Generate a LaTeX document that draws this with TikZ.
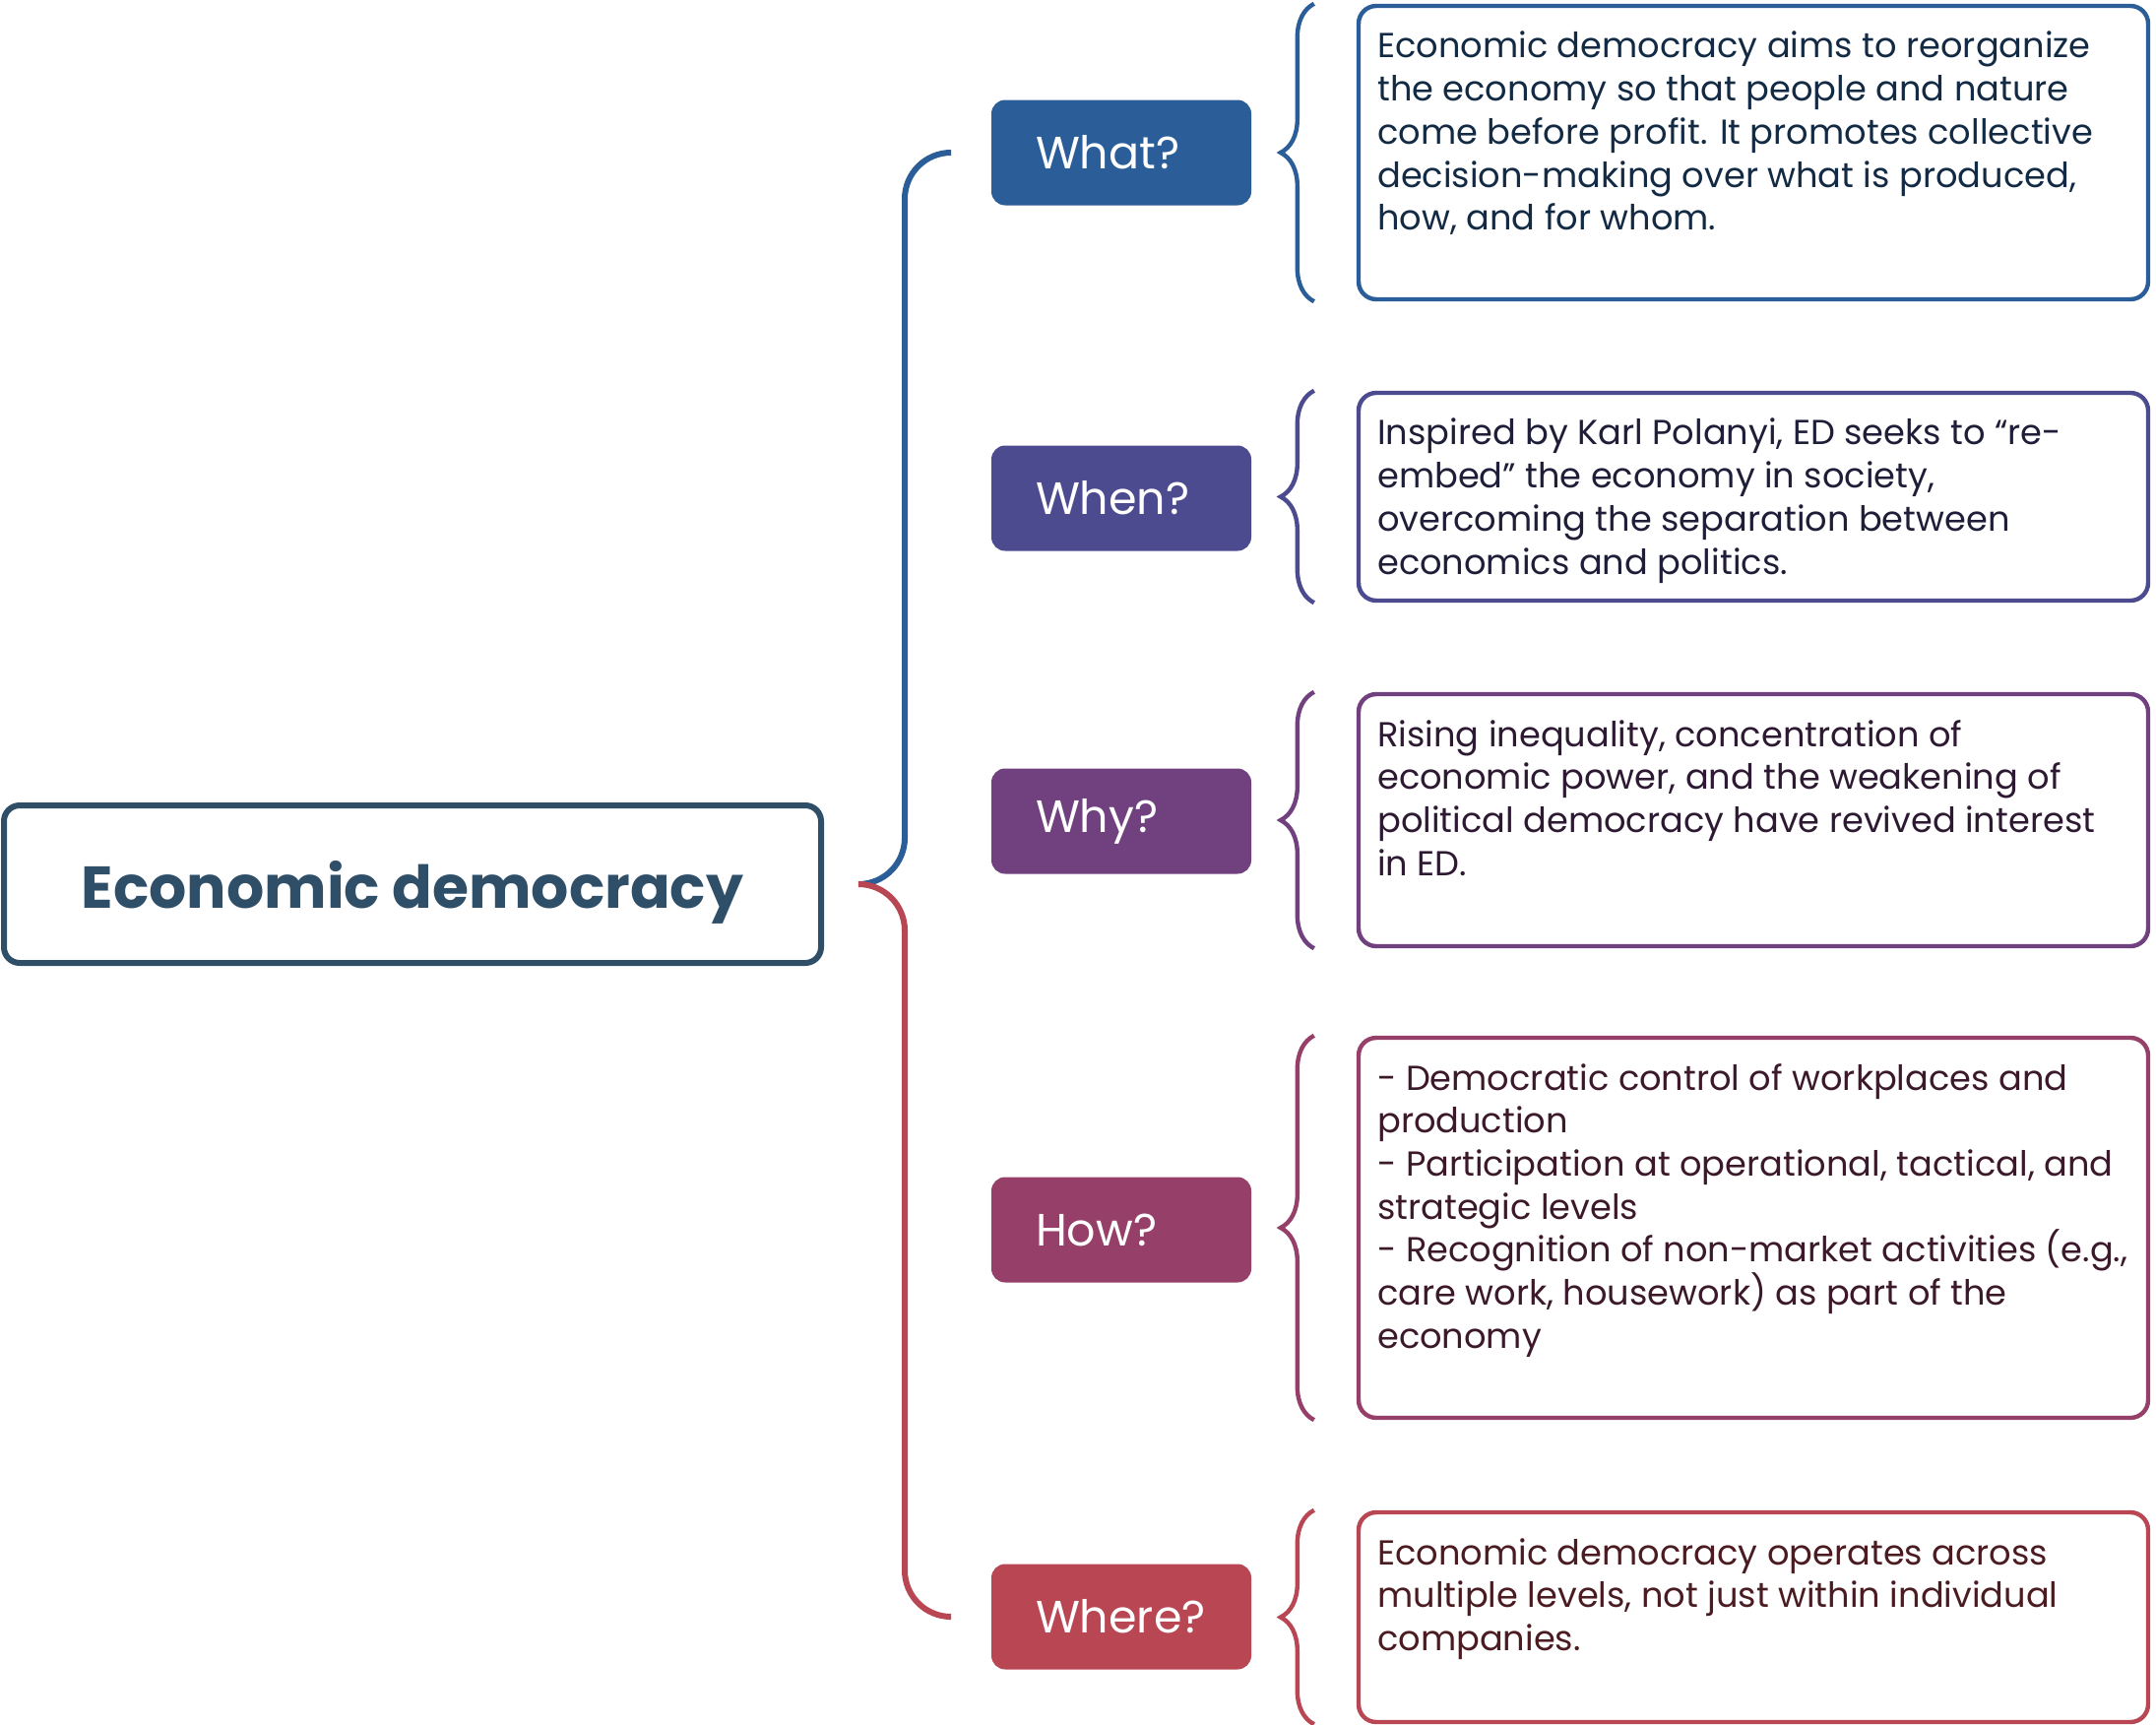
\documentclass[tikz,border=0pt]{standalone}
\usepackage{fontspec}
\setmainfont{Poppins}
\usetikzlibrary{positioning,calc,decorations.pathreplacing}

\definecolor{cwhat}{HTML}{2B5E98}
\definecolor{cwhen}{HTML}{4D4B8F}
\definecolor{cwhy}{HTML}{71407E}
\definecolor{chow}{HTML}{963F68}
\definecolor{cwhere}{HTML}{B84653}
\definecolor{croot}{HTML}{2F4E68}

\begin{document}
\begin{tikzpicture}[
    x=0.5pt, y=-0.5pt,
    rootbox/.style={rectangle, draw=croot, line width=3pt, rounded corners=8pt, minimum width=415pt, minimum height=80pt, text depth=0pt, text=croot, font=\fontsize{30}{35}\selectfont\bfseries},
    qbox/.style={rectangle, rounded corners=7pt, text=white, minimum height=53.5pt, text width=87pt, inner xsep=22.5pt, align=left, font=\fontsize{23}{28}\selectfont},
    infobox/.style={rectangle, line width=2.2pt, rounded corners=9pt, minimum width=401pt},
    infotext/.style={anchor=north west, inner sep=0pt, align=left, font=\fontsize{17.6}{21.85}\selectfont},
    brace/.style={decorate, decoration={brace, amplitude=17pt}, line width=2.2pt},
    branch/.style={line width=3pt, rounded corners=23.5pt}
]
\useasboundingbox (0,0) rectangle (2190,1751);

% Root
\node[rootbox] (root) at (419,898) {Economic democracy};

% Questions
\node[qbox, fill=cwhat] (what) at (1139,155) {What?};
\node[qbox, fill=cwhen] (when) at (1139,506) {When?};
\node[qbox, fill=cwhy] (why) at (1139,834) {Why?};
\node[qbox, fill=chow] (how) at (1139,1249) {How?};
\node[qbox, fill=cwhere] (where) at (1139,1642) {Where?};

% Answer boxes
\node[infobox, draw=cwhat, minimum height=149pt] (whatinfo) at (1781,155) {};
\node[infobox, draw=cwhen, minimum height=105.5pt] (wheninfo) at (1781,504.5) {};
\node[infobox, draw=cwhy, minimum height=128pt] (whyinfo) at (1781,833) {};
\node[infobox, draw=chow, minimum height=193pt] (howinfo) at (1781,1247) {};
\node[infobox, draw=cwhere, minimum height=106.5pt] (whereinfo) at (1781,1642.5) {};

% Answer texts
\node[infotext, text=cwhat!45!black] (whattext) at ([shift={(21,28)}]whatinfo.north west)
  {Economic democracy aims to reorganize\\the economy so that people and nature\\come before profit. It promotes collective\\decision-making over what is produced,\\how, and for whom.};
\node[infotext, text=cwhen!40!black] (whentext) at ([shift={(21,28)}]wheninfo.north west)
  {Inspired by Karl Polanyi, ED seeks to “re-\\embed” the economy in society,\\overcoming the separation between\\economics and politics.};
\node[infotext, text=cwhy!40!black] (whytext) at ([shift={(21,28)}]whyinfo.north west)
  {Rising inequality, concentration of\\economic power, and the weakening of\\political democracy have revived interest\\in ED.};
\node[infotext, text=chow!40!black] (howtext) at ([shift={(21,28)}]howinfo.north west)
  {- Democratic control of workplaces and\\production\\- Participation at operational, tactical, and\\strategic levels\\- Recognition of non-market activities (e.g.,\\care work, housework) as part of the\\economy};
\node[infotext, text=cwhere!40!black] (wheretext) at ([shift={(21,28)}]whereinfo.north west)
  {Economic democracy operates across\\multiple levels, not just within individual\\companies.};

% Braces
\foreach \q/\c in {what/cwhat, when/cwhen, why/cwhy, how/chow, where/cwhere}
  \draw[brace, draw=\c] ([xshift=-21.5pt]\q info.south west) -- ([xshift=-21.5pt]\q info.north west);

% Branches from the root
\coordinate (fork) at ([xshift=17.5pt]root.east);
\coordinate (whatend) at ([xshift=-21.5pt]what.west);
\coordinate (whereend) at ([xshift=-21.5pt]where.west);
\draw[branch, cwhat] (fork) -- ++(47,0) |- (whatend);
\draw[branch, cwhere] (fork) -- ++(47,0) |- (whereend);

\end{tikzpicture}
\end{document}
